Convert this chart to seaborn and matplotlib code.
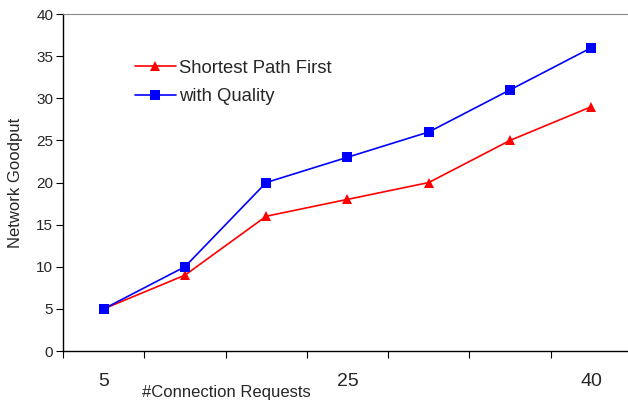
import numpy as np
import pandas as pd
import seaborn as sns
import matplotlib.pyplot as plt

# Veriler
requests = ['5', '10', '15', '25', '30', '35', '40']
shown_labels = ['5', '', '', '25', '', '', '40']
spf = [5, 9, 16, 18, 20, 25, 29]
quality = [5, 10, 20, 23, 26, 31, 36]

pos = np.arange(len(requests))
df = pd.DataFrame({
    'pos': np.concatenate([pos, pos]),
    'goodput': spf + quality,
    'series': ['Shortest Path First'] * len(spf) + ['with Quality'] * len(quality),
})

sns.set_style('white')
plt.rcParams['font.family'] = ['Liberation Sans', 'DejaVu Sans']

fig = plt.figure(figsize=(6.28, 4.05), dpi=100)
ax = fig.add_axes([0.1003, 0.1333, 0.906, 0.832])

sns.lineplot(data=df, x='pos', y='goodput', hue='series', style='series',
             palette={'Shortest Path First': '#ff0000', 'with Quality': '#0000ff'},
             markers={'Shortest Path First': '^', 'with Quality': 's'},
             dashes=False, markersize=7.5, markeredgewidth=0, linewidth=1.2, ax=ax)

ax.set_xlim(-0.5, len(requests) - 0.5)
ax.set_ylim(0, 40)
ax.set_yticks(range(0, 41, 5))
ax.tick_params(axis='y', labelsize=11, length=5, width=0.8, direction='out', left=True, color='black', pad=2)

# kategori sınırlarında tik, ortada etiket
ax.set_xticks(np.arange(-0.5, len(requests) - 0.5, 1.0))
ax.set_xticklabels([])
ax.set_xticks(pos, minor=True)
ax.set_xticklabels(shown_labels, minor=True, fontsize=14)
ax.tick_params(axis='x', which='major', length=5, width=0.8, direction='out', bottom=True, color='black')
ax.tick_params(axis='x', which='minor', length=0, pad=16)

for side in ['left', 'bottom']:
    ax.spines[side].set_color('black')
    ax.spines[side].set_linewidth(1.0)
ax.spines['top'].set_color('#888888')
ax.spines['right'].set_visible(False)

ax.set_xlabel('')
ax.set_ylabel('Network Goodput', fontsize=12)
ax.yaxis.set_label_coords(-0.071, 0.5)
fig.text(226 / 628, 1 - 393 / 405, '#Connection Requests', fontsize=12, ha='center', va='center')

leg = ax.legend(loc='upper left', bbox_to_anchor=(0.1265, 0.864), frameon=False, fontsize=13.3,
                handlelength=2.2, handletextpad=0.2, labelspacing=0.62,
                borderpad=0, borderaxespad=0)

fig.savefig('out.png', dpi=100)
